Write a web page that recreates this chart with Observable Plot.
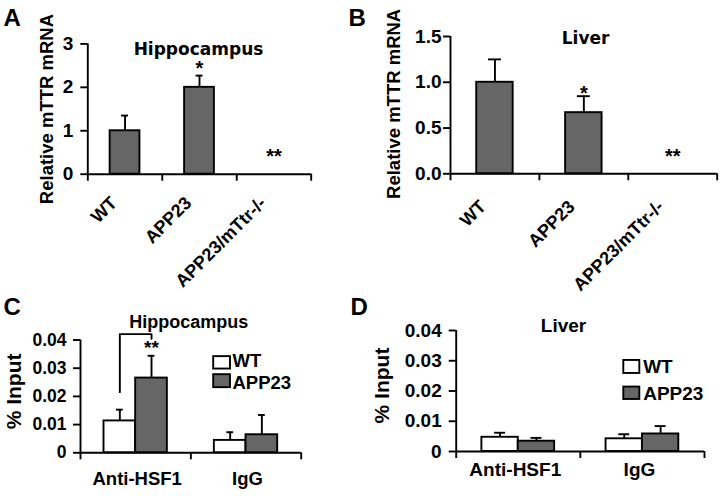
<!DOCTYPE html>
<html><head><meta charset="utf-8">
<script src="https://cdn.jsdelivr.net/npm/d3@7"></script>
<script src="https://cdn.jsdelivr.net/npm/@observablehq/plot@0.6"></script>
<style>
html,body{margin:0;padding:0;background:#fff;}
#fig{position:relative;width:720px;height:496px;overflow:hidden;background:#fff;}
.panel{position:absolute;}
.panel svg{max-width:none !important;}
</style></head><body>
<div id="fig"></div>
<script>
// ---- Panels A/B: relative mTTR mRNA ----
const genotypes = ["WT", "APP23", "APP23/mTtr-/-"];
const hippoMean = [1.0, 2.0, 0];
const hippoErr = [0.35, 0.27, 0];
const hippoSig = ["", "*", "**"];
const hippoSigY = [null, 2.53, 0.51];
const liverMean = [1.0, 0.668, 0];
const liverErr = [0.25, 0.18, 0];
const liverSig = ["", "*", "**"];
const liverSigY = [null, 0.93, 0.237];
const mrnaTicksA = [0, 1, 2, 3];
const mrnaTicksB = [0, 0.5, 1.0, 1.5];

// ---- Panels C/D: ChIP % input ----
const chipGroups = ["Anti-HSF1", "IgG"];
const chipSeries = ["WT", "APP23"];
const hippoChipWT = [0.0113, 0.0044];
const hippoChipWTErr = [0.0040, 0.0029];
const hippoChipAPP = [0.0265, 0.0064];
const hippoChipAPPErr = [0.0079, 0.0070];
const liverChipWT = [0.0047, 0.0042];
const liverChipWTErr = [0.0015, 0.0015];
const liverChipAPP = [0.0034, 0.0058];
const liverChipAPPErr = [0.0011, 0.0026];
const chipTicks = [0, 0.01, 0.02, 0.03, 0.04];
const bracketC = [0.0215, 0.0421, 0.0404];
const bracketCSig = "**";
const bracketCSigY = 0.0387;

const ARIAL = "'Liberation Sans', Arial, sans-serif";
const WIDE = "'DejaVu Sans', Verdana, sans-serif";
const GRAY = "#666666";
const SW = 1.9;

function mount(node, left, top, w, h) {
  const div = document.createElement("div");
  div.className = "panel";
  div.style.left = left + "px"; div.style.top = top + "px";
  div.style.width = w + "px"; div.style.height = h + "px";
  div.appendChild(node);
  document.getElementById("fig").appendChild(div);
}
const baseStyle = () => ({fontFamily: ARIAL, fontWeight: "bold", background: "transparent", overflow: "visible", color: "black"});

function commonMarks(o, n) {
  return [
    Plot.ruleX([0], {strokeWidth: SW}),
    Plot.ruleY([0], {strokeWidth: SW}),
    Plot.axisY({ticks: o.yTicks, tickFormat: o.fmt, tickSize: 7, tickPadding: o.tickPad, strokeWidth: SW, fontSize: o.tickFont, fontWeight: "bold", label: null}),
    Plot.axisX({ticks: d3.range(n + 1), tickSize: 7, strokeWidth: SW, fill: "none", label: null}),
    Plot.text([o.title], {text: d => d, frameAnchor: "top", lineAnchor: "top", dx: o.titleDx, dy: o.titleDy, fontSize: o.titleFont, fontFamily: o.titleFamily, fontWeight: "bold"}),
    Plot.text([o.yLabel], {text: d => d, frameAnchor: "left", textAnchor: "middle", lineAnchor: "middle", rotate: -90, dx: o.yLabDx, dy: o.yLabDy, fontSize: o.yLabFont, fontWeight: "bold"}),
    Plot.text([o.letter], {text: d => d, frameAnchor: "top-left", textAnchor: "start", lineAnchor: "top", dx: o.letDx, dy: o.letDy, fontSize: 24, fontWeight: "bold"})
  ];
}

function barPanel(o) {
  const n = o.cats.length;
  const rows = o.cats.map((c, i) => ({c, i, m: o.mean[i], e: o.err[i], s: o.sig[i], sy: o.sigY[i]}));
  const hw = o.barW / 2;
  const mid = d => d.i + 0.5;
  const errs = rows.filter(d => d.e > 0);
  return Plot.plot({
    width: o.width, height: o.height,
    marginLeft: o.ml, marginRight: o.mr, marginTop: o.mt, marginBottom: o.mb,
    x: {domain: [0, n]},
    y: {domain: [o.yTicks[0], o.yTicks[o.yTicks.length - 1]]},
    style: baseStyle(),
    marks: [
      Plot.ruleX(errs, {x: mid, y1: "m", y2: d => d.m + d.e, strokeWidth: SW}),
      Plot.ruleY(errs, {y: d => d.m + d.e, x1: d => mid(d) - o.capW, x2: d => mid(d) + o.capW, strokeWidth: SW}),
      Plot.rect(rows.filter(d => d.m > 0), {x1: d => mid(d) - hw, x2: d => mid(d) + hw, y1: () => 0, y2: "m", fill: GRAY, stroke: "black", strokeWidth: SW}),
      ...commonMarks(o, n),
      Plot.text(rows, {x: mid, text: "c", frameAnchor: "bottom", rotate: o.rot, textAnchor: "end", lineAnchor: "bottom", dx: o.labDx, dy: o.labDy, fontSize: o.labFont, fontWeight: "bold"}),
      Plot.text(rows.filter(d => d.s), {x: mid, y: "sy", text: "s", fontSize: o.sigFont, dy: o.sigFont * 0.23, fontWeight: "bold"})
    ]
  });
}

function groupPanel(o) {
  const n = o.groups.length;
  const w = o.barW;
  const rows = [];
  o.groups.forEach((g, i) => {
    o.series.forEach((s, k) => {
      rows.push({g, i, k, s, m: o.vals[k][i], e: o.errs[k][i], cx: i + 0.5 + (k === 0 ? -w / 2 : w / 2)});
    });
  });
  const marks = [
    Plot.ruleX(rows, {x: "cx", y1: "m", y2: d => d.m + d.e, strokeWidth: SW}),
    Plot.ruleY(rows, {y: d => d.m + d.e, x1: d => d.cx - o.capW, x2: d => d.cx + o.capW, strokeWidth: SW}),
    ...o.series.map((s, k) => Plot.rect(rows.filter(d => d.k === k), {x1: d => d.cx - w / 2, x2: d => d.cx + w / 2, y1: () => 0, y2: "m", fill: k === 0 ? "white" : GRAY, stroke: "black", strokeWidth: SW})),
    ...commonMarks(o, n),
    Plot.text(o.groups, {x: (d, i) => i + 0.5, text: d => d, frameAnchor: "bottom", lineAnchor: "top", dx: o.labDx, dy: o.labDy, fontSize: o.labFont, fontWeight: "bold"}),
    ...o.series.map((s, k) => Plot.rect([s], {x1: () => o.leg.x1, x2: () => o.leg.x2, y1: () => o.leg.boxY[k][0], y2: () => o.leg.boxY[k][1], fill: k === 0 ? "white" : GRAY, stroke: "black", strokeWidth: SW})),
    ...o.series.map((s, k) => Plot.text([s], {x: () => o.leg.tx, y: () => o.leg.ty[k], text: d => d, textAnchor: "start", fontSize: o.leg.font, fontFamily: o.leg.family, fontWeight: "bold"}))
  ];
  if (o.bracket) {
    const a = rows.find(d => d.i === 0 && d.k === 0).cx, b = rows.find(d => d.i === 0 && d.k === 1).cx;
    const pts = [{x: a, y: o.bracket[0]}, {x: a, y: o.bracket[1]}, {x: b, y: o.bracket[1]}, {x: b, y: o.bracket[2]}];
    marks.push(Plot.line(pts, {x: "x", y: "y", strokeWidth: SW}));
    marks.push(Plot.text([o.bracketSig], {x: () => b, y: () => o.bracketSigY, text: d => d, fontSize: 19, dy: 19 * 0.23, fontWeight: "bold"}));
  }
  return Plot.plot({
    width: o.width, height: o.height,
    marginLeft: o.ml, marginRight: o.mr, marginTop: o.mt, marginBottom: o.mb,
    x: {domain: [0, n]},
    y: {domain: [chipTicks[0], chipTicks[chipTicks.length - 1]]},
    style: baseStyle(),
    marks
  });
}

const chipFmt = d => d === 0 ? "0" : d.toFixed(2);

mount(barPanel({
  cats: genotypes, mean: hippoMean, err: hippoErr, sig: hippoSig, sigY: hippoSigY, yTicks: mrnaTicksA, fmt: d3.format("d"),
  width: 340, height: 300, ml: 87.3, mr: 29.3, mt: 43.4, mb: 126.3,
  barW: 0.40, capW: 0.047, tickPad: 7.5, tickFont: 19,
  title: "Hippocampus", titleFont: 17, titleFamily: WIDE, titleDx: -1, titleDy: -1.4,
  yLabel: "Relative mTTR mRNA", yLabFont: 18.5, yLabDx: -40.6, yLabDy: 0,
  letter: "A", letDx: -84.3, letDy: -35.4,
  rot: -45, labDx: -7, labDy: 30, labFont: 18, sigFont: 20
}), 0, 0, 340, 300);

mount(barPanel({
  cats: genotypes, mean: liverMean, err: liverErr, sig: liverSig, sigY: liverSigY, yTicks: mrnaTicksB, fmt: d3.format(".1f"),
  width: 380, height: 300, ml: 110, mr: 3.3, mt: 36, mb: 126.7,
  barW: 0.41, capW: 0.073, tickPad: 2, tickFont: 19,
  title: "Liver", titleFont: 17, titleFamily: WIDE, titleDx: 1.7, titleDy: -4.3,
  yLabel: "Relative mTTR mRNA", yLabFont: 18.5, yLabDx: -56.7, yLabDy: -1.3,
  letter: "B", letDx: -102, letDy: -28,
  rot: -45, labDx: -8, labDy: 34, labFont: 18, sigFont: 20
}), 340, 0, 380, 300);

mount(groupPanel({
  groups: chipGroups, series: chipSeries,
  vals: [hippoChipWT, hippoChipAPP], errs: [hippoChipWTErr, hippoChipAPPErr],
  yTicks: chipTicks, fmt: chipFmt,
  width: 340, height: 214, ml: 80, mr: 39.3, mt: 57.5, mb: 43.7,
  barW: 0.287, capW: 0.031, tickPad: 7, tickFont: 17.5,
  title: "Hippocampus", titleFont: 18, titleFamily: ARIAL, titleDx: -2, titleDy: -24.5,
  yLabel: "% Input", yLabFont: 21, yLabDx: -66, yLabDy: -5,
  letter: "C", letDx: -77, letDy: -42.5,
  labDx: 1.5, labDy: 19, labFont: 18.5,
  leg: {x1: 1.207, x2: 1.359, boxY: [[0.0297, 0.0341], [0.0231, 0.0277]], tx: 1.377, ty: [0.0324, 0.0248], font: 18.5, family: ARIAL},
  bracket: bracketC, bracketSig: bracketCSig, bracketSigY: bracketCSigY
}), 0, 282, 340, 214);

mount(groupPanel({
  groups: chipGroups, series: chipSeries,
  vals: [liverChipWT, liverChipAPP], errs: [liverChipWTErr, liverChipAPPErr],
  yTicks: chipTicks, fmt: chipFmt,
  width: 380, height: 214, ml: 115.7, mr: 16, mt: 48, mb: 45,
  barW: 0.293, capW: 0.044, tickPad: 7.5, tickFont: 19,
  title: "Liver", titleFont: 19, titleFamily: ARIAL, titleDx: -16.8, titleDy: -11.7,
  yLabel: "% Input", yLabFont: 21, yLabDx: -73.7, yLabDy: -5.5,
  letter: "D", letDx: -105.7, letDy: -33,
  labDx: -3, labDy: 10.5, labFont: 19,
  leg: {x1: 1.350, x2: 1.479, boxY: [[0.0258, 0.0301], [0.0172, 0.0213]], tx: 1.506, ty: [0.0279, 0.0192], font: 19, family: ARIAL}
}), 340, 282, 380, 214);
</script>
</body></html>
